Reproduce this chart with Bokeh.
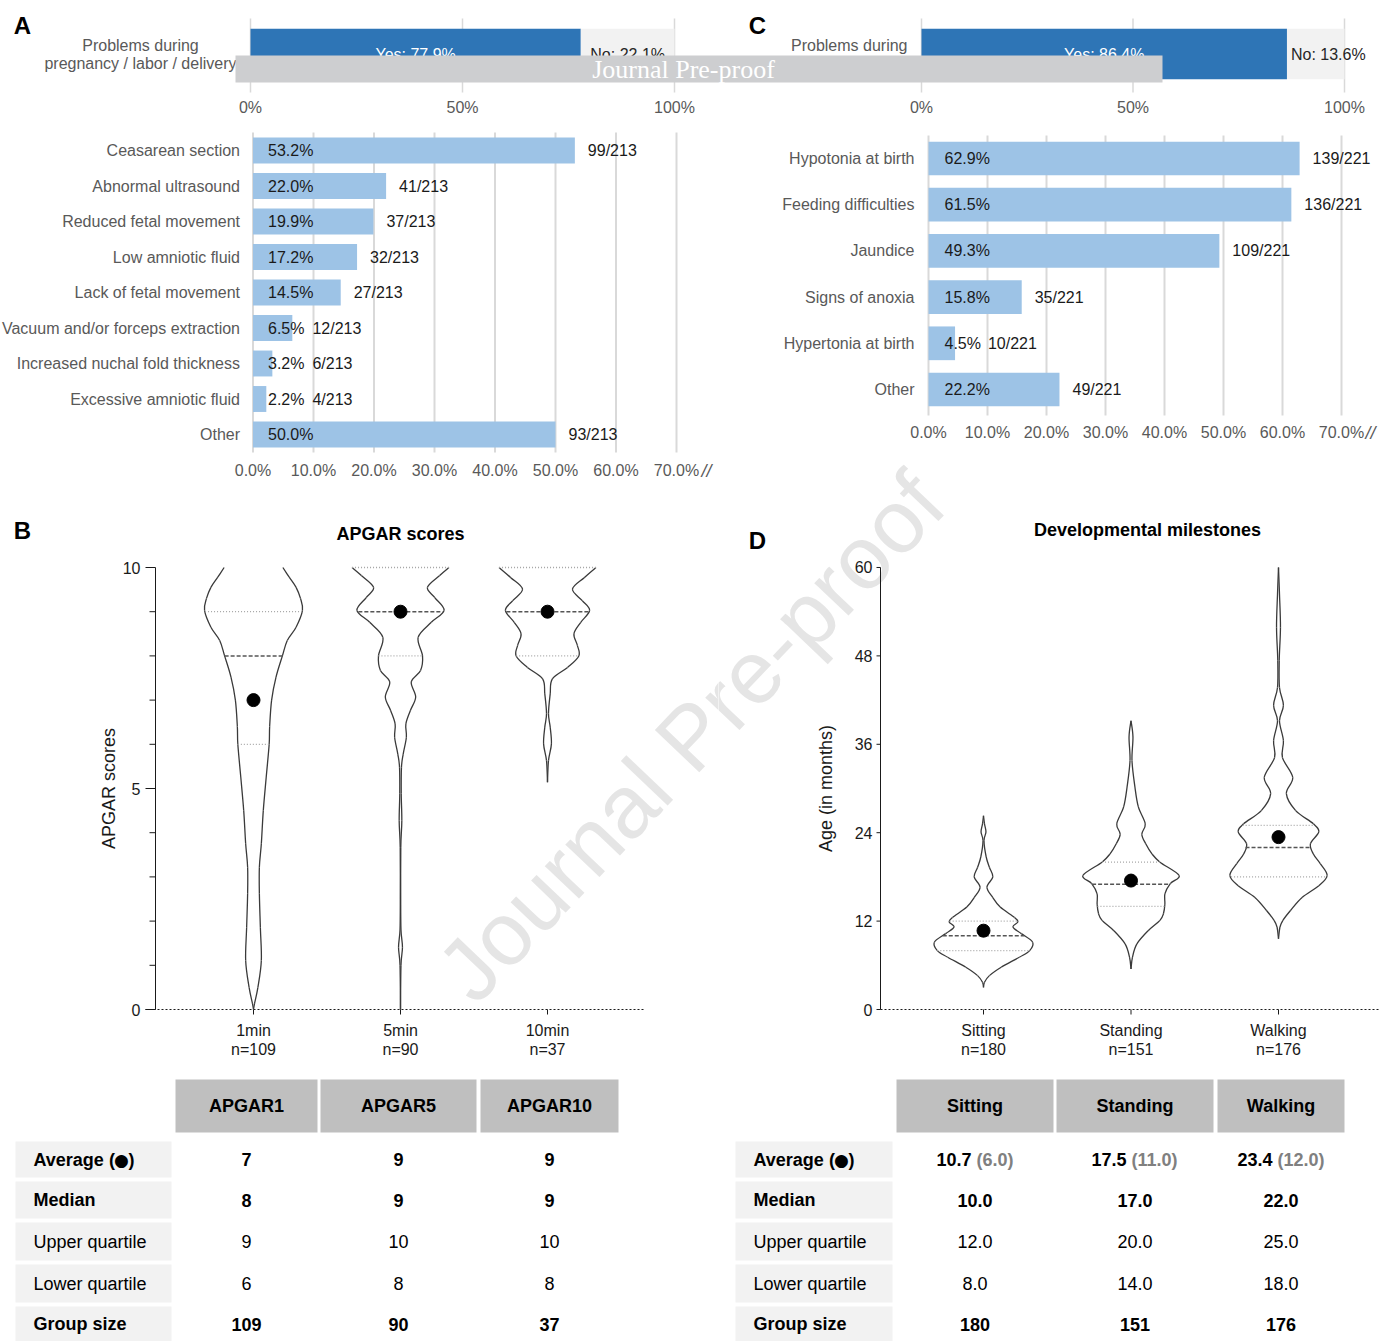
import numpy as np
from bokeh.plotting import figure
from bokeh.layouts import column, row
from bokeh.models import Range1d, Label
from bokeh.core.properties import value
from bokeh.embed import file_html
from bokeh.resources import INLINE

SANS = "Liberation Sans"
SERIF = "Liberation Serif"

# ------------------------------------------------------------------ data
# summary bars (A, C): share of children with problems
summary_yes = [77.9, 86.4]
summary_no = [22.1, 13.6]
summary_label = ["Problems during", "pregnancy / labor / delivery"]

# panel A: problems during pregnancy / labor / delivery
preg_cats = ["Ceasarean section", "Abnormal ultrasound", "Reduced fetal movement",
             "Low amniotic fluid", "Lack of fetal movement",
             "Vacuum and/or forceps extraction", "Increased nuchal fold thickness",
             "Excessive amniotic fluid", "Other"]
preg_pct = [53.2, 22.0, 19.9, 17.2, 14.5, 6.5, 3.2, 2.2, 50.0]
preg_counts = ["99/213", "41/213", "37/213", "32/213", "27/213", "12/213",
               "6/213", "4/213", "93/213"]

# panel C: neonatal problems
neo_cats = ["Hypotonia at birth", "Feeding difficulties", "Jaundice",
            "Signs of anoxia", "Hypertonia at birth", "Other"]
neo_pct = [62.9, 61.5, 49.3, 15.8, 4.5, 22.2]
neo_counts = ["139/221", "136/221", "109/221", "35/221", "10/221", "49/221"]

pct_ticks = [0, 10, 20, 30, 40, 50, 60, 70]
summary_ticks = [0, 50, 100]

# panel B: APGAR scores
apgar_groups = ["1min", "5min", "10min"]
apgar_headers = ["APGAR1", "APGAR5", "APGAR10"]
apgar_n = [109, 90, 37]
apgar_mean = [7, 9, 9]
apgar_median = [8, 9, 9]
apgar_upper = [9, 10, 10]
apgar_lower = [6, 8, 8]
apgar_ticks = [0, 5, 10]
apgar_minor = [1, 2, 3, 4, 6, 7, 8, 9]

# violin outlines: score level (top to bottom) and relative half-width
apgar1_level = [10.0, 9.78, 9.55, 9.3, 9.03, 8.65, 8.35, 8.0, 7.52, 7.0, 6.4, 6.0,
                5.26, 4.5, 3.75, 3.22, 2.62, 1.86, 1.11, 0.5, 0.13, 0.0]
apgar1_width = [0.60, 0.73, 0.87, 0.96, 1.0, 0.87, 0.69, 0.59, 0.46, 0.37, 0.33, 0.32,
                0.26, 0.20, 0.16, 0.12, 0.12, 0.14, 0.16, 0.09, 0.02, 0.0]
apgar5_level = [10.0, 9.82, 9.55, 9.32, 9.03, 8.76, 8.42, 8.0, 7.67, 7.41, 7.07, 6.76,
                6.46, 6.16, 5.78, 5.48, 4.88, 4.27, 3.67, 2.5, 1.8, 1.41, 1.0, 0.0]
apgar5_width = [0.99, 0.80, 0.55, 0.70, 0.89, 0.63, 0.36, 0.45, 0.41, 0.22, 0.31, 0.20,
                0.11, 0.12, 0.055, 0.02, 0.015, 0.027, 0.006, 0.004, 0.01, 0.04, 0.01, 0.0]
apgar10_level = [10.0, 9.77, 9.51, 9.25, 9.03, 8.76, 8.5, 8.24, 8.0, 7.74, 7.48, 7.14,
                 6.69, 6.39, 6.01, 5.63, 5.14]
apgar10_width = [0.99, 0.75, 0.51, 0.71, 0.86, 0.68, 0.54, 0.61, 0.64, 0.41, 0.10, 0.055,
                 0.02, 0.055, 0.08, 0.02, 0.0]

# panel D: developmental milestones (months)
mile_groups = ["Sitting", "Standing", "Walking"]
mile_n = [180, 151, 176]
mile_mean = [10.7, 17.5, 23.4]
mile_mean_note = ["(6.0)", "(11.0)", "(12.0)"]
mile_median = [10.0, 17.0, 22.0]
mile_upper = [12.0, 20.0, 25.0]
mile_lower = [8.0, 14.0, 18.0]
mile_ticks = [0, 12, 24, 36, 48, 60]

sit_level = [26.3, 25.2, 24.1, 22.9, 20.7, 19.3, 18.0, 16.6, 15.2, 13.9, 12.5, 11.9,
             11.2, 10.3, 9.14, 8.0, 7.1, 5.74, 4.6, 3.7, 3.0]
sit_width = [0.0, 0.02, 0.05, 0.01, 0.055, 0.12, 0.19, 0.07, 0.19, 0.34, 0.63, 0.70,
             0.60, 0.77, 1.0, 0.94, 0.73, 0.36, 0.12, 0.02, 0.0]
stand_level = [39.2, 37.0, 33.8, 30.2, 27.5, 25.2, 23.8, 22.5, 21.1, 20.0, 18.2, 17.1,
               15.7, 14.3, 13.0, 12.1, 10.7, 8.9, 7.1, 5.5]
stand_width = [0.0, 0.04, 0.02, 0.08, 0.15, 0.29, 0.22, 0.30, 0.43, 0.59, 0.98, 0.80,
               0.69, 0.69, 0.66, 0.59, 0.35, 0.12, 0.03, 0.0]
walk_level = [60.0, 56.4, 51.9, 47.4, 43.7, 41.3, 39.2, 36.5, 34.2, 31.5, 29.3, 27.0,
              25.2, 24.1, 22.5, 21.1, 19.8, 18.2, 16.8, 15.2, 13.4, 12.1, 11.2, 9.6]
walk_width = [0.0, 0.02, 0.04, 0.015, 0.02, 0.10, 0.02, 0.10, 0.08, 0.29, 0.16, 0.35,
              0.71, 0.82, 0.65, 0.71, 0.85, 0.99, 0.82, 0.48, 0.24, 0.09, 0.03, 0.0]

table_rows = ["Average (\u25cf)", "Median", "Upper quartile", "Lower quartile", "Group size"]
table_bold = [True, True, False, False, True]

# ------------------------------------------------------------------ helpers
_ADV = {".": .278, " ": .278, "%": .889, "/": .278, "(": .333, ")": .333,
        ":": .278, "N": .722}


def text_w(s, size):
    return sum(_ADV.get(ch, .556) for ch in s) * size


def blank(width, height, xr, yr):
    p = figure(width=width, height=height, x_range=xr, y_range=yr,
               output_backend="svg", toolbar_location=None,
               x_axis_location=None, y_axis_location=None,
               min_border=0, outline_line_color=None)
    p.grid.visible = False
    return p


def txt(p, x, y, text, size=16, color="#1a1a1a", align="left", baseline="middle",
        style="normal", font=SANS, **kw):
    p.text(x=x, y=y, text=text, text_font=value(font), text_font_size=f"{size}px",
           text_color=color, text_align=align, text_baseline=baseline,
           text_font_style=style, **kw)


def watermark(p, canvas_left, canvas_bottom):
    # frame fills the canvas, so screen units run from the canvas' lower-left corner
    p.add_layout(Label(x=690 - canvas_left, y=canvas_bottom - 736,
                       x_units="screen", y_units="screen", text="Journal Pre-proof",
                       angle=0.81, text_font=SANS, text_font_size="89px",
                       text_color="#e5e5e5", text_align="center",
                       text_baseline="middle", level="underlay"))


def smooth_line(p, xs, ys, **kw):
    """Draw a smooth curve through the given outline points (Catmull-Rom Beziers)."""
    P = np.column_stack([xs, ys]).astype(float)
    Pm = np.vstack([P[0], P, P[-1]])
    c0 = P[:-1] + (Pm[2:-1] - Pm[:-3]) / 6.0
    c1 = P[1:] - (Pm[3:] - Pm[1:-2]) / 6.0
    p.bezier(x0=P[:-1, 0], y0=P[:-1, 1], x1=P[1:, 0], y1=P[1:, 1],
             cx0=c0[:, 0], cy0=c0[:, 1], cx1=c1[:, 0], cy1=c1[:, 1], **kw)


# ------------------------------------------------------------------ top summary row
TOP_W, TOP_H = 1380, 122
top = blank(TOP_W, TOP_H, Range1d(0, TOP_W), Range1d(-0.950, 0.742))
top_px = {"a": 4.24, "c": 4.23}
top_zero = {"a": 250, "c": 921}
top.extra_x_ranges = {k: Range1d(-top_zero[k] / top_px[k], (TOP_W - top_zero[k]) / top_px[k])
                      for k in top_px}

for name, yes, no in zip(["a", "c"], summary_yes, summary_no):
    px = top_px[name]
    top.segment(x0=summary_ticks, x1=summary_ticks, y0=0.492, y1=-0.534,
                line_color="#d9d9d9", line_width=1.5, x_range_name=name)
    top.hbar(y=[0], left=[0], right=[yes], height=0.7, fill_color="#2e75b6",
             line_color=None, x_range_name=name)
    top.hbar(y=[0], left=[yes], right=[yes + no], height=0.7, fill_color="#f2f2f2",
             line_color=None, x_range_name=name)
    txt(top, [yes / 2], 0, [f"Yes: {yes:.1f}%"], color="white", align="center",
        x_range_name=name)
    no_txt = f"No: {no:.1f}%"
    nx = max(yes + no / 2 - text_w(no_txt, 16) / 2 / px, yes + 4 / px)
    txt(top, [nx], 0, [no_txt], color="#262626", x_range_name=name)
    txt(top, summary_ticks, -0.742, [f"{t}%" for t in summary_ticks], color="#595959",
        align="center", x_range_name=name)

# category label of the summary bars (two centred lines in A, first line in C)
txt(top, [0], 0, [summary_label[0]], color="#595959", align="center",
    x_offset=-110, y_offset=-9, x_range_name="a")
txt(top, [0], 0, [summary_label[1]], color="#595959", align="right",
    x_offset=-14, y_offset=9, x_range_name="a")
txt(top, [0], 0, [summary_label[0]], color="#595959", align="right",
    x_offset=-14, y_offset=-9, x_range_name="c")

# banner across the summary row
top.quad(left=[235], right=[1162], top=[-0.021], bottom=[-0.395],
         fill_color="#cdced0", line_color=None)
txt(top, [683], -0.215, ["Journal Pre-proof"], size=26, color="white",
    align="center", font=SERIF)
txt(top, [22, 757], 0.395, ["A", "C"], size=24, style="bold", color="black",
    align="center")


# ------------------------------------------------------------------ horizontal bar panels
def bar_panel(width, height, zero_px, px_per, row0, row_step, cats, pct, counts,
              grid_top_px, grid_bot_px, tick_px, cat_off, pct_off, cnt_gap, slash_px):
    p = blank(width, height,
              Range1d(-zero_px / px_per, (width - zero_px) / px_per),
              Range1d((height - row0) / row_step, -row0 / row_step))
    ys = list(range(len(cats)))
    g0 = (grid_top_px - row0) / row_step
    g1 = (grid_bot_px - row0) / row_step
    ty = (tick_px - row0) / row_step
    p.segment(x0=pct_ticks, x1=pct_ticks, y0=g0, y1=g1, line_color="#d9d9d9", line_width=2)
    p.hbar(y=ys, left=0, right=pct, height=0.73, fill_color="#9dc3e6", line_color=None)
    txt(p, [0] * len(ys), ys, cats, color="#595959", align="right", x_offset=-cat_off)
    pct_txt = [f"{v:.1f}%" for v in pct]
    txt(p, [0] * len(ys), ys, pct_txt, color="#1a1a1a", x_offset=pct_off)
    cx = [max(v + 13 / px_per, (pct_off + text_w(t, 16) + cnt_gap) / px_per)
          for v, t in zip(pct, pct_txt)]
    txt(p, cx, ys, counts, color="#1a1a1a")
    txt(p, pct_ticks, ty, [f"{t:.1f}%" for t in pct_ticks], color="#595959", align="center")
    txt(p, [(slash_px - zero_px) / px_per], ty, ["//"], size=18, color="#595959",
        align="center", style="italic")
    return p


LEFT_W, RIGHT_W = 718, 662
pa = bar_panel(LEFT_W, 368, 252.5, 6.05, 28, 35.5, preg_cats, preg_pct, preg_counts,
               10, 330, 348, 13, 15, 8, 706)
pc = bar_panel(RIGHT_W, 338, 210, 5.9, 36, 46.2, neo_cats, neo_pct, neo_counts,
               13, 293, 310, 14, 16, 7, 652)
watermark(pc, 718, 460)


# ------------------------------------------------------------------ violin panels
def violin(p, xc, level, width, mean, med, upq, loq, scale=0.333):
    lv = np.array(level, dtype=float)
    hw = np.array(width, dtype=float) * scale
    for side in (-1, 1):
        smooth_line(p, xc + side * hw, lv, line_color="#3a3a3a", line_width=1.3)
    for q, col, dash, lw in [(upq, "#a6a6a6", "1 2", 1.3), (loq, "#a6a6a6", "1 2", 1.3),
                             (med, "#555555", "4 2", 1.5)]:
        h = np.interp(q, lv[::-1], hw[::-1])
        p.segment(x0=[xc - h], x1=[xc + h], y0=[q], y1=[q], line_color=col,
                  line_dash=dash, line_width=lw)
    p.scatter([xc], [mean], size=13, fill_color="black", line_color="black")


def violin_panel(width, height, cat0_px, cat_step, zero_px, px_val, yaxis_px,
                 xline_px, yticks, yminor, ymax, major_out, label_gap, ylabel_gap,
                 ylabel, groups, ns, title, title_px, letter_px):
    """Panel whose frame fills the canvas; axes drawn on the data scales."""
    def gx(px_):
        return 1 + (px_ - cat0_px) / cat_step

    p = blank(width, height,
              Range1d(gx(0), gx(width)),
              Range1d(-(height - zero_px) / px_val, zero_px / px_val))
    ax = gx(yaxis_px)
    ink = "#1a1a1a"
    # y axis
    p.segment(x0=[ax], x1=[ax], y0=[0], y1=[ymax], line_color=ink, line_width=1)
    p.segment(x0=ax - major_out / cat_step, x1=ax, y0=yticks, y1=yticks,
              line_color=ink, line_width=1)
    if yminor:
        p.segment(x0=ax - 6 / cat_step, x1=ax, y0=yminor, y1=yminor,
                  line_color=ink, line_width=1)
    txt(p, [ax] * len(yticks), yticks, [str(t) for t in yticks], align="right",
        x_offset=-label_gap, color=ink)
    txt(p, [ax], [ymax / 2], [ylabel], size=18, align="center", angle=np.pi / 2,
        x_offset=-ylabel_gap, color=ink)
    # x axis (dotted baseline with category ticks)
    p.segment(x0=[gx(xline_px[0])], x1=[gx(xline_px[1])], y0=[0], y1=[0],
              line_color=ink, line_dash="2 2", line_width=1.2)
    cats = [1, 2, 3]
    p.segment(x0=cats, x1=cats, y0=0, y1=-5 / px_val, line_color=ink, line_width=1)
    txt(p, cats, 0, groups, align="center", y_offset=21, color=ink)
    txt(p, cats, 0, [f"n={n}" for n in ns], align="center", y_offset=40, color=ink)
    # title and panel letter
    txt(p, [gx(title_px[0])], ymax, [title], size=18, style="bold", color="black",
        align="center", y_offset=title_px[1])
    txt(p, [gx(letter_px[0])], ymax, [letter_px[2]], size=24, style="bold",
        color="black", align="center", y_offset=letter_px[1])
    return p


# B: canvas spans x 0..718, y 490..1065 of the page
pb = violin_panel(LEFT_W, 575, 253, 147, 519, 44.2, 155, (145, 645),
                  apgar_ticks, apgar_minor, 10, 10, 15, 47, "APGAR scores",
                  apgar_groups, apgar_n, "APGAR scores", (400, -34), (22, -37, "B"))
for i, (lv, wd) in enumerate([(apgar1_level, apgar1_width), (apgar5_level, apgar5_width),
                              (apgar10_level, apgar10_width)]):
    violin(pb, i + 1, lv, wd, apgar_mean[i], apgar_median[i], apgar_upper[i], apgar_lower[i])
watermark(pb, 0, 1065)

# D: canvas spans x 718..1380, y 460..1065 of the page
pdv = violin_panel(RIGHT_W, 605, 265, 147.5, 549, 7.367, 162, (162, 660),
                   mile_ticks, None, 60, 4, 8, 55, "Age (in months)",
                   mile_groups, mile_n, "Developmental milestones", (429, -37),
                   (39, -27, "D"))
for i, (lv, wd) in enumerate([(sit_level, sit_width), (stand_level, stand_width),
                              (walk_level, walk_width)]):
    violin(pdv, i + 1, lv, wd, mile_mean[i], mile_median[i], mile_upper[i], mile_lower[i])
watermark(pdv, 718, 1065)

# ------------------------------------------------------------------ tables
TAB_H = 276
HEAD_Y = (14, 67)
ROW_Y = [(76, 112), (116, 153), (157, 195), (199, 237), (241, 276)]


def table_panel(width, head_x, label_x, label_text_x, headers, cells, notes=None):
    p = blank(width, TAB_H, Range1d(0, width), Range1d(TAB_H, 0))
    p.quad(left=[a for a, b in head_x], right=[b for a, b in head_x],
           top=HEAD_Y[0], bottom=HEAD_Y[1], fill_color="#bfbfbf", line_color=None)
    p.quad(left=label_x[0], right=label_x[1], top=[a for a, b in ROW_Y],
           bottom=[b for a, b in ROW_Y], fill_color="#f2f2f2", line_color=None)
    cx = [(a + b) / 2 for a, b in head_x]
    hy = (HEAD_Y[0] + HEAD_Y[1]) / 2
    txt(p, cx, hy, headers, size=18, style="bold", color="black", align="center")
    for r, (name, bold) in enumerate(zip(table_rows, table_bold)):
        ry = (ROW_Y[r][0] + ROW_Y[r][1]) / 2
        st = "bold" if bold else "normal"
        if "\u25cf" in name:
            # the filled circle is set in a font that carries a full-size glyph
            head, tail = name.split("\u25cf")
            txt(p, [label_text_x], ry, [head], size=18, style=st, color="black")
            txt(p, [label_text_x + 88], ry, ["\u25cf"], size=17, color="black",
                align="center", font="DejaVu Sans")
            txt(p, [label_text_x + 95], ry, [tail], size=18, style=st, color="black")
        else:
            txt(p, [label_text_x], ry, [name], size=18, style=st, color="black")
        if r == 0 and notes is not None:
            for c, (v, nt) in enumerate(zip(cells[r], notes)):
                wv = text_w(v, 18)
                wn = text_w(" " + nt, 18)
                split = cx[c] - (wv + wn) / 2 + wv
                txt(p, [split], ry, [v], size=18, style="bold", color="black", align="right")
                txt(p, [split + 5], ry, [nt], size=18, style="bold", color="#808080")
        else:
            txt(p, cx, ry, cells[r], size=18, style=st, color="black", align="center")
    return p


apgar_cells = [[str(v) for v in apgar_mean], [str(v) for v in apgar_median],
               [str(v) for v in apgar_upper], [str(v) for v in apgar_lower],
               [str(v) for v in apgar_n]]
tb = table_panel(LEFT_W, [(175, 317), (320, 476), (480, 618)], (15, 171), 33,
                 apgar_headers, apgar_cells)

mile_cells = [[f"{v:.1f}" for v in mile_mean], [f"{v:.1f}" for v in mile_median],
              [f"{v:.1f}" for v in mile_upper], [f"{v:.1f}" for v in mile_lower],
              [str(v) for v in mile_n]]
td = table_panel(RIGHT_W, [(178, 335), (338, 495), (499, 626)], (17, 174), 35,
                 mile_groups, mile_cells, notes=mile_mean_note)

layout = column(top, row(column(pa, pb, tb), column(pc, pdv, td)))

with open("out.html", "w") as f:
    f.write(file_html(layout, INLINE))
